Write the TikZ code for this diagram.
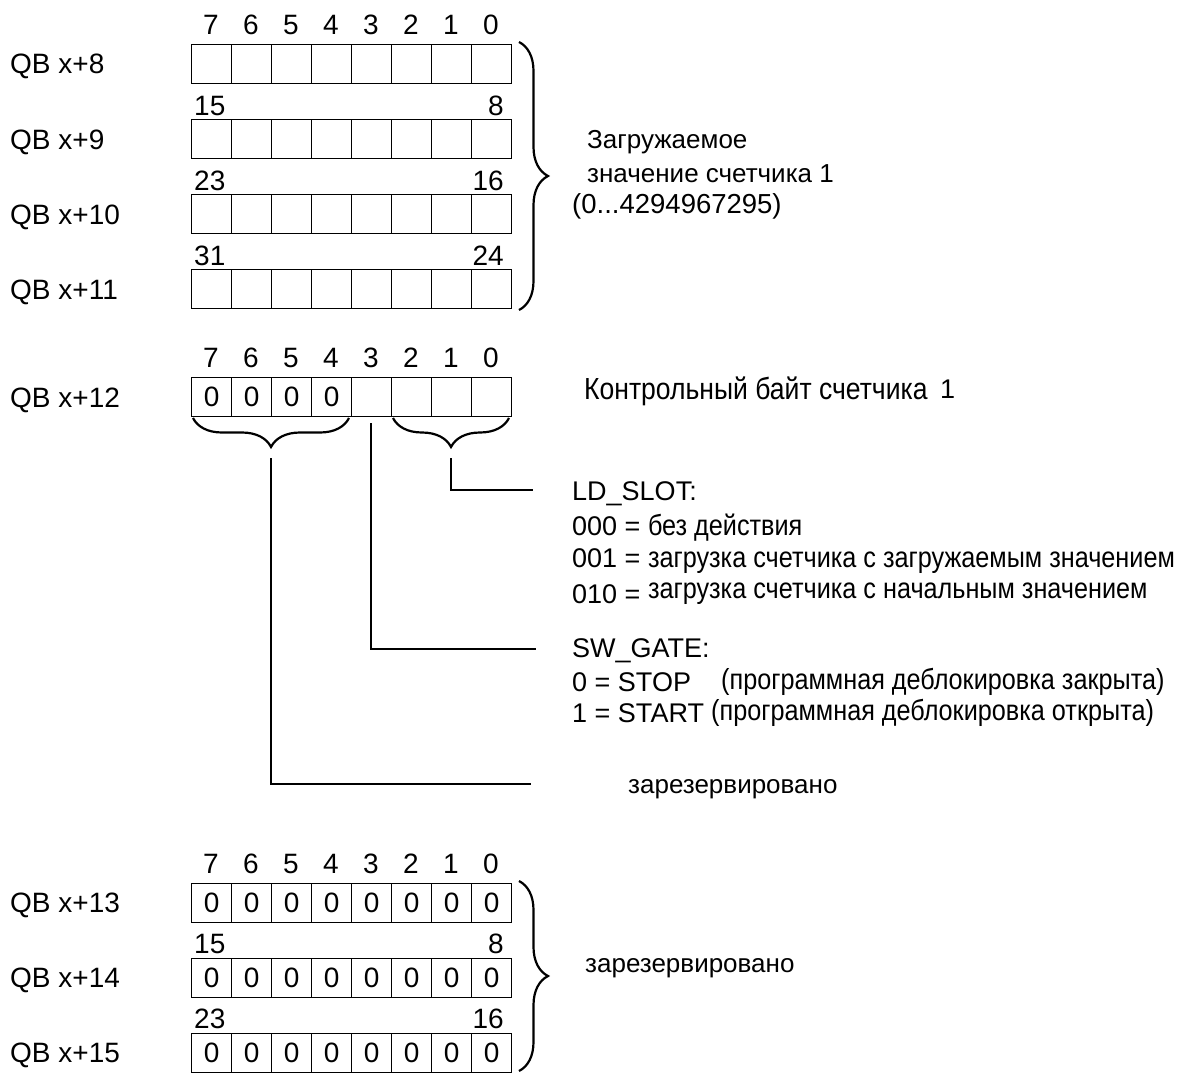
\documentclass[tikz,border=0pt]{standalone}
\usepackage{fontspec}
\setmainfont{Liberation Sans}
\newfontfamily\nfont[FakeStretch=0.87]{Liberation Sans}
\usetikzlibrary{decorations.pathreplacing}
\begin{document}
\begin{tikzpicture}[x=1pt,y=-1pt,
  cell/.style={draw, line width=1.4pt, minimum width=40pt, minimum height=39pt, inner sep=0pt, anchor=north west, font=\fontsize{28}{28}\selectfont},
  bitnum/.style={font=\fontsize{28}{28}\selectfont, inner sep=0pt, text height=20pt, text depth=0pt},
  qb/.style={font=\fontsize{28}{28}\selectfont, anchor=west, inner sep=0pt, text height=20pt, text depth=0pt},
  txt/.style={font=\fontsize{27}{27}\selectfont, anchor=west, inner sep=0pt},
  dtxt/.style={font=\fontsize{26}{26}\selectfont, anchor=west, inner sep=0pt},
  ntxt/.style={font=\nfont\fontsize{29}{29}\selectfont, anchor=west, inner sep=0pt},
  conn/.style={line width=2.4pt},
  brc/.style={decorate, decoration={brace, amplitude=29pt}, line width=2.2pt}]
\useasboundingbox[fill=white] (0,0) rectangle (1190,1073);

% ---------- top block: QB x+8 .. x+11 ----------
\foreach \r/\yy/\lab in {a/44/8, b/119/9, c/194/10, d/269/11}{
  \node[qb] (qb\r) at (10,{\yy+20}) {QB x+\lab};
  \foreach \i in {0,...,7}{
    \node[cell] (\r\i) at ({191+40*\i},\yy) {};
  }
}
\foreach \i/\b in {0/7,1/6,2/5,3/4,4/3,5/2,6/1,7/0}{
  \node[bitnum] (ta\i) at ({211+40*\i},25) {\b};
}
\node[bitnum, anchor=west] (tb15) at (194,105) {15};
\node[bitnum, anchor=east] (tb8)  at (504,105) {8};
\node[bitnum, anchor=west] (tc23) at (194,180) {23};
\node[bitnum, anchor=east] (tc16) at (504,180) {16};
\node[bitnum, anchor=west] (td31) at (194,255) {31};
\node[bitnum, anchor=east] (td24) at (504,255) {24};

\draw[brc] (519,42) -- (519,310);
\node[dtxt] (load1) at (587,142) {Загружаемое};
\node[dtxt] (load2) at (587,174) {значение счетчика 1};
\node[dtxt, font=\fontsize{27.5}{27.5}\selectfont] (load3) at (572,206) {(0...4294967295)};

% ---------- control byte QB x+12 ----------
\node[qb] (qbe) at (10,397) {QB x+12};
\foreach \i/\v in {0/0,1/0,2/0,3/0,4/,5/,6/,7/}{
  \node[cell] (e\i) at ({191+40*\i},377) {\v};
}
\foreach \i/\b in {0/7,1/6,2/5,3/4,4/3,5/2,6/1,7/0}{
  \node[bitnum] (te\i) at ({211+40*\i},357) {\b};
}
\node[ntxt, font=\nfont\fontsize{30.5}{30.5}\selectfont] (ctrl) at (584,391) {Контрольный байт счетчика};
\node[txt] (ctrl1) at (940,389) {1};

\draw[brc] (349,418) -- (193,418);
\draw[brc] (509,418) -- (393,418);
\coordinate (tipL) at (271,458);
\coordinate (tipM) at (371,423);
\coordinate (tipR) at (451,458);
\coordinate (endR) at (533,490);
\coordinate (endM) at (536,649);
\coordinate (endL) at (531,784);
\draw[conn] (tipR) |- (endR);
\draw[conn] (tipM) |- (endM);
\draw[conn] (tipL) |- (endL);

\node[txt] (ld)  at (572,494) {LD\_SLOT:};
\node[txt] (ld0) at (572,528) {000 = {\nfont\fontsize{29}{29}\selectfont без действия}};
\node[txt] (ld1) at (572,561) {001 = {\nfont\fontsize{29}{29}\selectfont загрузка счетчика с загружаемым значением}};
\node[txt] (ld2) at (572,594) {010 = \raisebox{5pt}{\nfont\fontsize{29}{29}\selectfont загрузка счетчика с начальным значением}};

\node[txt] (sw)   at (572,651) {SW\_GATE:};
\node[txt] (sw0)  at (572,682) {0 = STOP};
\node[ntxt] (sw0d) at (721,682) {(программная деблокировка закрыта)};
\node[txt] (sw1)  at (572,713) {1 = START};
\node[ntxt] (sw1d) at (711,713) {(программная деблокировка открыта)};

\node[dtxt] (resv) at (628,789) {зарезервировано};

% ---------- bottom block QB x+13 .. x+15 ----------
\foreach \r/\yy/\lab in {f/883/13, g/958/14, h/1033/15}{
  \node[qb] (qb\r) at (10,{\yy+19}) {QB x+\lab};
  \foreach \i in {0,...,7}{
    \node[cell] (\r\i) at ({191+40*\i},\yy) {0};
  }
}
\foreach \i/\b in {0/7,1/6,2/5,3/4,4/3,5/2,6/1,7/0}{
  \node[bitnum] (tf\i) at ({211+40*\i},863) {\b};
}
\node[bitnum, anchor=west] (tg15) at (194,943) {15};
\node[bitnum, anchor=east] (tg8)  at (504,943) {8};
\node[bitnum, anchor=west] (th23) at (194,1018) {23};
\node[bitnum, anchor=east] (th16) at (504,1018) {16};

\draw[brc] (519,881) -- (519,1071);
\node[dtxt] (resv2) at (585,968) {зарезервировано};
\end{tikzpicture}
\end{document}
